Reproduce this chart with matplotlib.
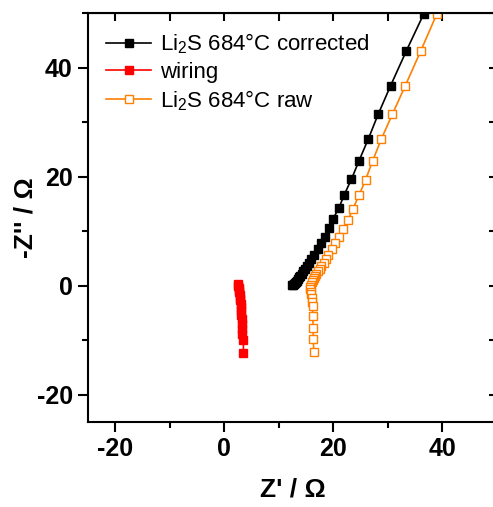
import matplotlib.pyplot as plt
from matplotlib.ticker import MultipleLocator

plt.rcParams['font.family'] = ['Liberation Sans', 'DejaVu Sans']
plt.rcParams['mathtext.default'] = 'regular'
plt.rcParams['axes.unicode_minus'] = False

# Li2S 684 C, wiring-corrected spectrum (Z', -Z'')
CORR_RE = [36.6, 33.4, 30.5, 28.2, 26.4, 24.7, 23.3, 22.0, 21.0, 19.9, 19.2,
           18.4, 17.7, 17.1, 16.4, 15.9, 15.5, 15.1, 14.8, 14.5, 14.2, 13.9,
           13.7, 13.5, 13.3, 13.1, 12.9, 12.8, 12.6, 12.5]
CORR_IM = [49.9, 43.1, 36.7, 31.4, 26.9, 22.9, 19.5, 16.7, 14.2, 12.2, 10.5,
           9.0, 7.8, 6.7, 5.7, 4.9, 4.2, 3.6, 3.1, 2.6, 2.2, 1.8,
           1.5, 1.2, 0.9, 0.7, 0.5, 0.35, 0.2, 0.1]

# wiring / lead contribution
WIRE_RE = [2.5, 2.5, 2.6, 2.6, 2.7, 2.8, 2.8, 2.9, 3.0, 3.0, 3.1, 3.1, 3.2,
           3.2, 3.3, 3.3, 3.5, 3.5]
WIRE_IM = [0.3, 0.0, -0.4, -0.8, -1.2, -1.7, -2.2, -2.7, -3.3, -3.9, -4.6,
           -5.3, -6.1, -7.0, -7.9, -8.8, -9.9, -12.3]

# raw measurement
RAW_RE = [39.0, 36.0, 33.2, 30.8, 28.8, 27.2, 25.9, 24.7, 23.6, 22.7, 21.8,
          21.0, 20.3, 19.7, 19.1, 18.6, 18.2, 17.8, 17.5, 17.2, 16.9, 16.6,
          16.4, 16.2, 16.0, 15.9, 15.8, 15.8, 15.9, 15.9, 16.0, 16.1, 16.2,
          16.2, 16.3, 16.3, 16.4]
RAW_IM = [49.9, 43.0, 36.7, 31.4, 26.9, 22.9, 19.4, 16.6, 14.1, 12.1, 10.4,
          9.0, 7.8, 6.7, 5.7, 4.9, 4.2, 3.6, 3.1, 2.6, 2.2, 1.8,
          1.4, 1.0, 0.6, 0.2, -0.2, -0.6, -1.1, -1.6, -2.2, -3.0, -3.7,
          -5.5, -7.7, -9.7, -12.1]

fig = plt.figure(figsize=(4.93, 5.07), dpi=100)
ax = fig.add_axes([0.1785, 0.1677, 0.8296, 0.8067])

ax.plot(CORR_RE, CORR_IM, color='black', lw=1.2, marker='s', ms=6.2,
        mfc='black', mec='black', label='Li$_2$S 684°C corrected')
ax.plot(WIRE_RE, WIRE_IM, color='red', lw=1.2, marker='s', ms=6.2,
        mfc='red', mec='red', label='wiring')
ax.plot(RAW_RE, RAW_IM, color='#ff7f00', lw=1.2, marker='s', ms=6.2,
        mfc='white', mec='#ff7f00', mew=1.0, label='Li$_2$S 684°C raw')

ax.set_xlim(-25, 50)
ax.set_ylim(-25, 50)
ax.xaxis.set_major_locator(MultipleLocator(20))
ax.xaxis.set_minor_locator(MultipleLocator(10))
ax.yaxis.set_major_locator(MultipleLocator(20))
ax.yaxis.set_minor_locator(MultipleLocator(10))

for s in ax.spines.values():
    s.set_linewidth(1.5)
ax.tick_params(which='both', direction='out', width=1.5, labelsize=18,
               top=False, right=False)
ax.tick_params(which='major', length=7, pad=4)
ax.tick_params(which='minor', length=4)
for lab in ax.get_xticklabels() + ax.get_yticklabels():
    lab.set_fontweight('bold')

# inward ticks on the mirrored top/right axes
sec_x = ax.secondary_xaxis('top')
sec_x.xaxis.set_major_locator(MultipleLocator(10))
sec_x.tick_params(direction='in', length=6, width=1.5, labeltop=False)
sec_y = ax.secondary_yaxis('right')
sec_y.yaxis.set_major_locator(MultipleLocator(10))
sec_y.tick_params(direction='in', length=6, width=1.5, labelright=False)

ax.set_xlabel("Z' / Ω", fontsize=19, fontweight='bold', labelpad=12)
ax.set_ylabel("-Z'' / Ω", fontsize=19, fontweight='bold', labelpad=-1)

ax.legend(loc='upper left', bbox_to_anchor=(0.045, 0.955), frameon=False,
          fontsize=16, handlelength=2.0, handletextpad=0.4, labelspacing=0.25,
          borderpad=0, borderaxespad=0)

fig.savefig('out.png', dpi=100)
